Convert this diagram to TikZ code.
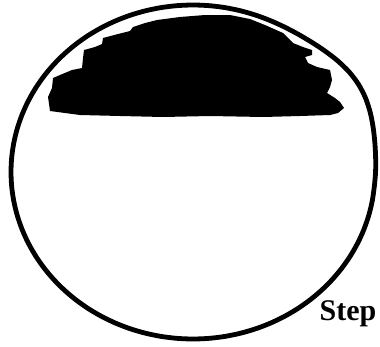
\documentclass[tikz,border=0pt]{standalone}
\usepackage{fontspec}
\setmainfont{Liberation Serif}
\usepackage{tikz}

\begin{document}
\begin{tikzpicture}[x=1pt, y=-1pt]
    % Frame of the picture
    \useasboundingbox (0,0) rectangle (380,346);

    % Outer circle (bulges a little at the upper right)
    \draw[line width=4.8pt] plot[domain=0:355, samples=72, smooth cycle]
        ({193+182*cos(\x)*(1+0.05*exp(-min(((\x-30)/18)^2,10)))},
         {172-167*sin(\x)*(1+0.05*exp(-min(((\x-30)/18)^2,10)))});

    % Dark region at the top
    \fill[black] (50,111) -- (48,97) -- (52,88) -- (53,78) -- (60,75) -- (72,70) -- (82,68)
        -- (83,58) -- (84,50) -- (95,47) -- (102,44) -- (103,38) -- (118,34) -- (130,31)
        -- (133,27) -- (145,23) -- (157,20) -- (180,17) -- (205,15) -- (230,15)
        -- (250,19) -- (265,25) -- (283,33) -- (293,43) -- (303,47)
        -- (312,50) -- (312,55) -- (305,57) -- (308,63) -- (317,67) -- (330,70)
        -- (332,80) -- (330,87) -- (327,93) -- (335,98) -- (340,102) -- (344,108)
        -- (338,113) -- (330,115) -- (300,116) -- (263,117) -- (210,116) -- (163,117)
        -- (120,116) -- (80,115) -- cycle;

    % Label
    \node[font=\fontsize{30}{34}\selectfont\bfseries, anchor=base] (steplabel) at (348,320) {Step};
\end{tikzpicture}
\end{document}
